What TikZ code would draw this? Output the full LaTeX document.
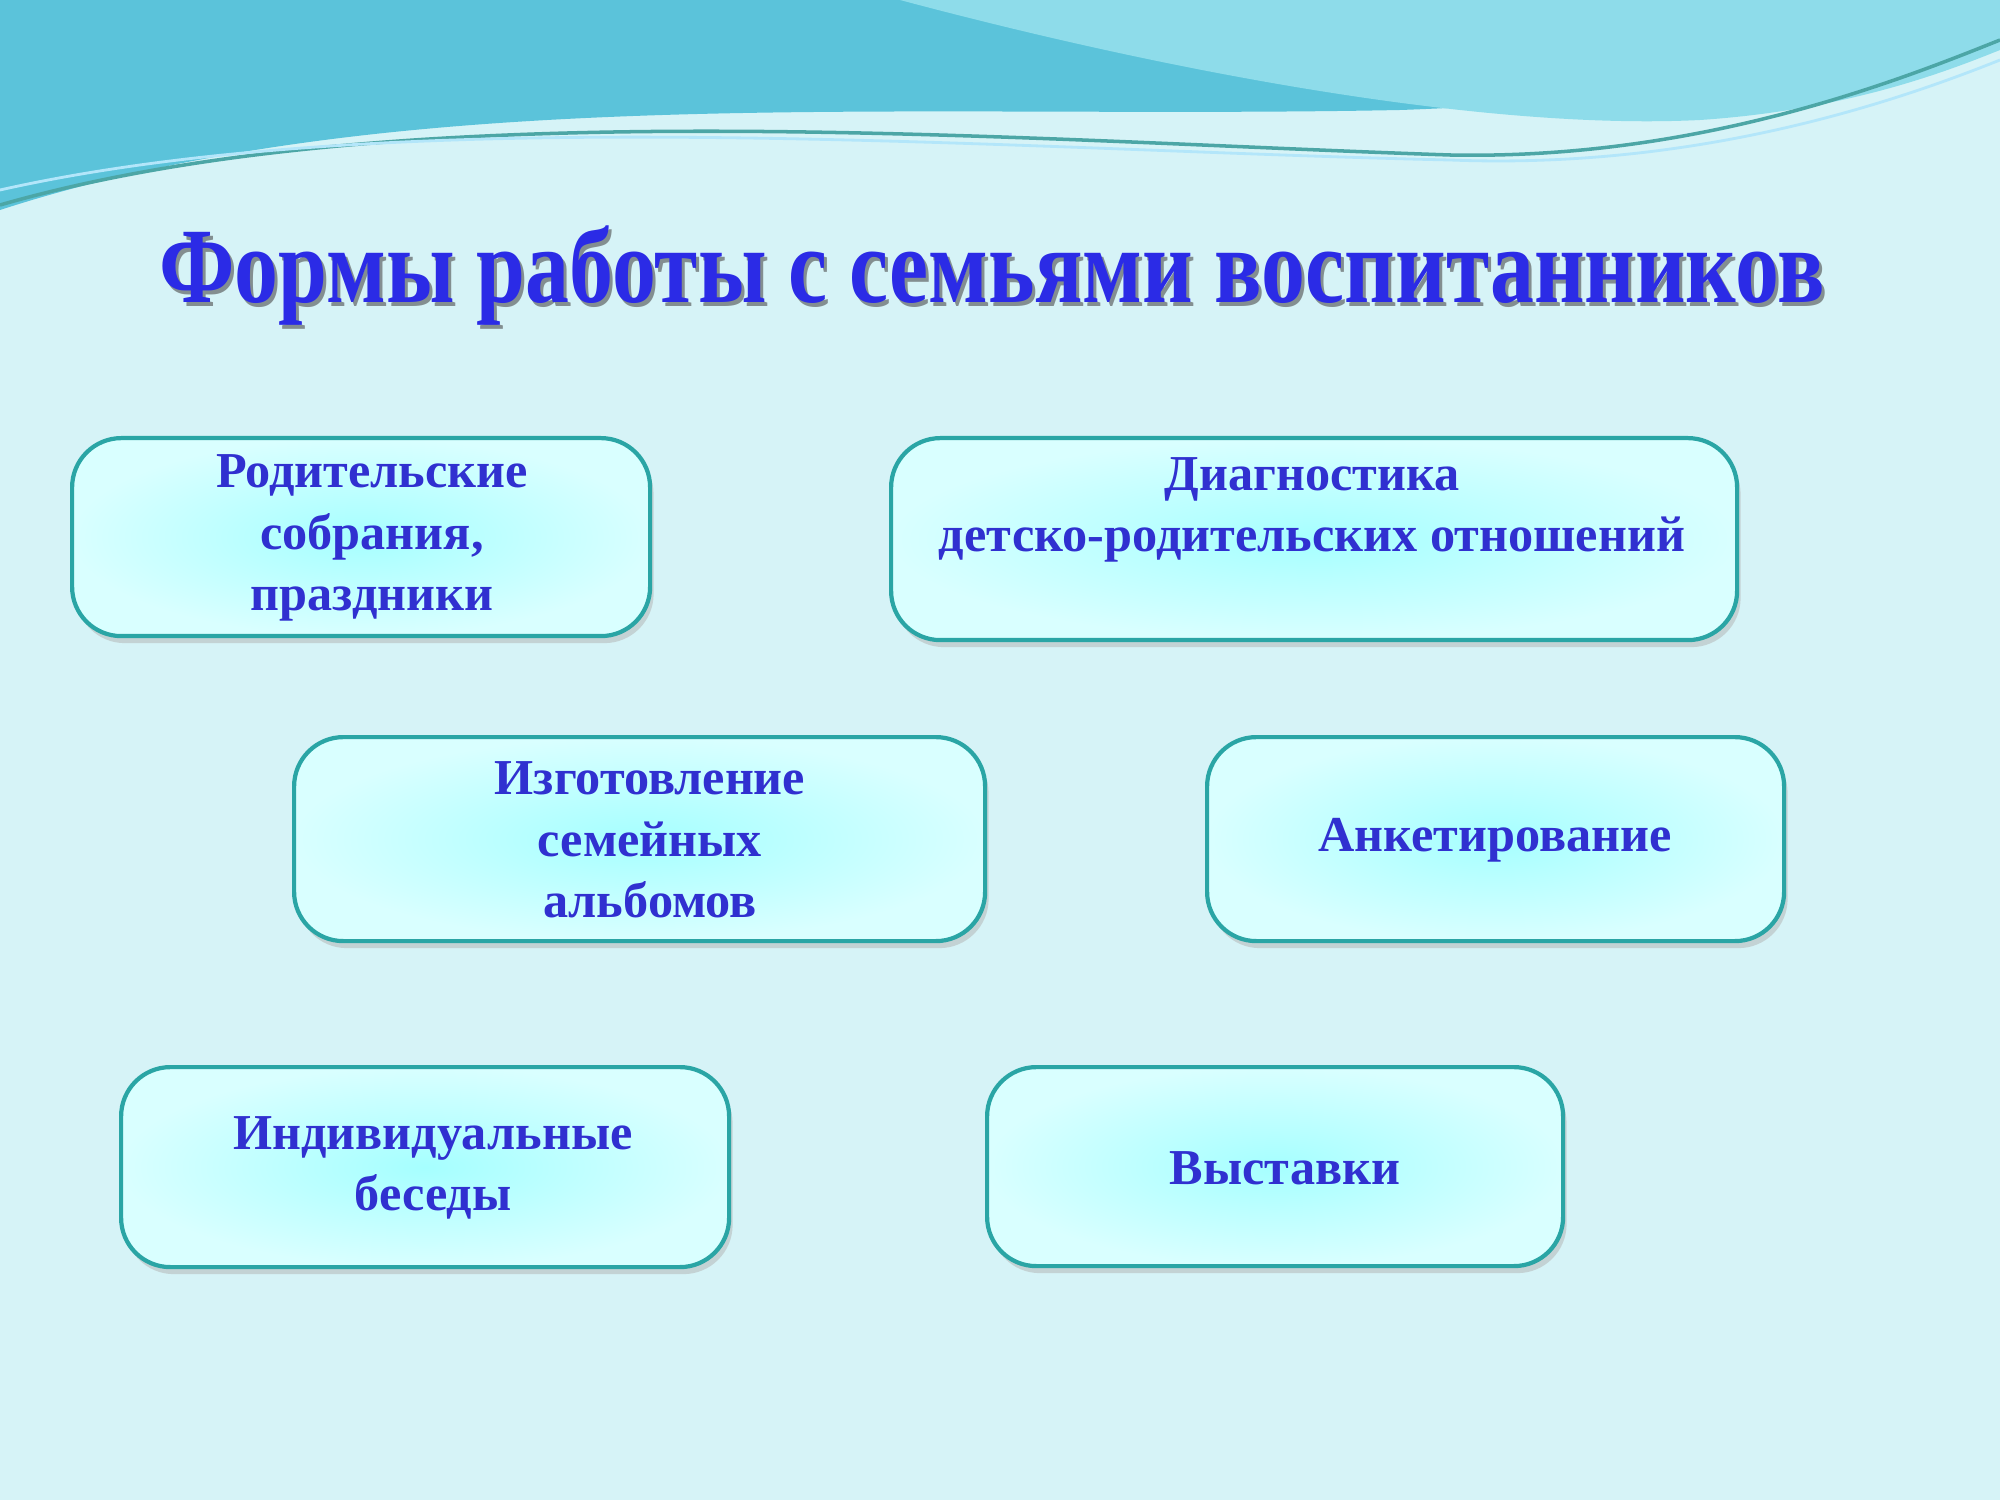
\documentclass[tikz,border=0pt]{standalone}
\usepackage{fontspec}
\setmainfont{Liberation Serif}
\usetikzlibrary{shadows}
\definecolor{bg}{HTML}{D6F3F7}
\definecolor{wave1}{HTML}{5BC3DA}
\definecolor{wave2}{HTML}{8EDCEA}
\definecolor{bord}{HTML}{2AA5A5}
\definecolor{txt}{HTML}{3030D0}
\definecolor{ttl}{HTML}{2B2BE6}
\tikzset{
 formbox/.style={draw=bord, line width=1.2pt, rounded corners=14pt, inner color=cyan!35, outer color=white!85!cyan,
   drop shadow={shadow xshift=1pt, shadow yshift=-2pt, fill=gray!60, opacity=.5},
   align=center, anchor=north west},
 boxtext/.style={text=txt, font=\fontsize{14.3}{17.5}\selectfont\bfseries, align=center}
}
\begin{document}
\begin{tikzpicture}[x=1cm,y=1cm]
\fill[bg] (0,0) rectangle (20,15);
\useasboundingbox (0,0) rectangle (20,15);
% top waves
\fill[wave1] (0,15) -- (0,12.9) .. controls (4,14.2) and (9,13.8) .. (14,13.9) .. controls (17,14) and (19,14.6) .. (20,14.9) -- (20,15) -- cycle;
\fill[wave2] (9,15) .. controls (12,14.2) and (15,13.7) .. (17,13.8) .. controls (18.5,13.9) and (19.5,14.3) .. (20,14.5) -- (20,15) -- cycle;
\draw[teal!70, line width=1pt] (0,12.95) .. controls (4,14.1) and (10,13.6) .. (14.5,13.45) .. controls (17,13.4) and (19,14.2) .. (20,14.6);
\draw[white!70!cyan, line width=0.8pt] (0,13.1) .. controls (4,14.0) and (10,13.5) .. (14.5,13.4) .. controls (17,13.3) and (19,14) .. (20,14.4);
% title
\node[font=\fontsize{25}{30}\selectfont\bfseries, text=black!70, opacity=.6, yscale=1.22] at (9.95,12.2) {Формы работы с семьями воспитанников};
\node[font=\fontsize{25}{30}\selectfont\bfseries, text=ttl, yscale=1.22] (title) at (9.92,12.24) {Формы работы с семьями воспитанников};
% boxes
\node[formbox, minimum width=5.78cm, minimum height=1.98cm] (b1) at (0.70,10.64) {};
\node[boxtext] (t1) at (3.72,9.62) {Родительские\\собрания,\\праздники};
\node[formbox, minimum width=8.46cm, minimum height=2.02cm] (b2) at (8.89,10.64) {};
\node[boxtext] (t2) at (13.12,9.9) {Диагностика\\детско-родительских отношений};
\node[formbox, minimum width=6.91cm, minimum height=2.04cm] (b3) at (2.92,7.65) {};
\node[boxtext] (t3) at (6.5,6.6) {Изготовление\\семейных\\альбомов};
\node[formbox, minimum width=5.77cm, minimum height=2.04cm] (b4) at (12.05,7.65) {};
\node[boxtext] (t4) at (14.95,6.6) {Анкетирование};
\node[formbox, minimum width=6.08cm, minimum height=2.0cm] (b5) at (1.19,4.35) {};
\node[boxtext] (t5) at (4.33,3.32) {Индивидуальные\\беседы};
\node[formbox, minimum width=5.76cm, minimum height=1.99cm] (b6) at (9.85,4.35) {};
\node[boxtext] (t6) at (12.85,3.32) {Выставки};
\end{tikzpicture}
\end{document}
